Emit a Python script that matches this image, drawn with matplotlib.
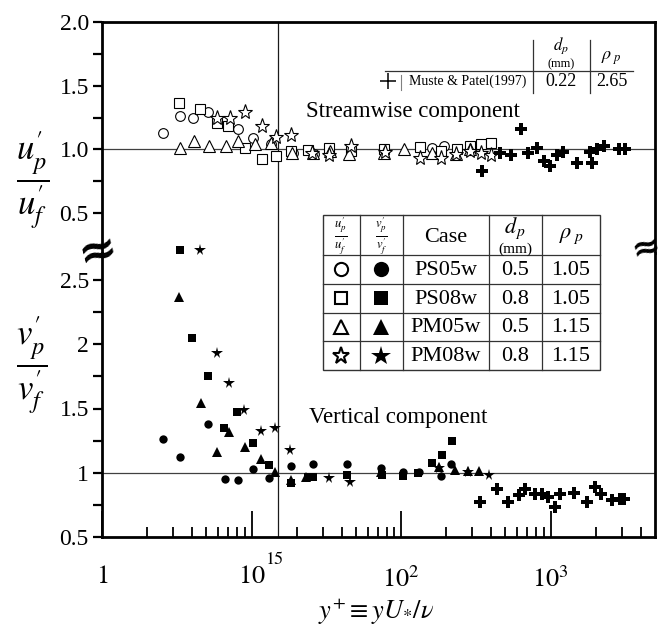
import matplotlib.pyplot as plt
import numpy as np
from matplotlib.patches import Rectangle
from matplotlib.ticker import NullFormatter

plt.rcParams.update({
    "font.family": "serif",
    "font.serif": ["Liberation Serif", "DejaVu Serif"],
    "mathtext.fontset": "stix",
    "font.size": 14,
    "axes.linewidth": 2.0,
})

# ---------------------------------------------------------------- data
# streamwise component u'_p / u'_f (open symbols)
ps05_u_x = [2.57, 3.3, 4.06, 5.15, 8.1, 10.3, 13.4, 19, 26, 162, 195, 320]
ps05_u_y = [1.13, 1.265, 1.245, 1.29, 1.16, 1.09, 1.04, 0.975, 0.965, 1.01, 1.025, 1.025]

ps08_u_x = [3.25, 4.54, 5.9, 7.0, 9.07, 11.8, 14.5, 18.5, 23.7, 32.8, 46.3, 76.5,
            133, 184, 236, 291, 343, 398]
ps08_u_y = [1.365, 1.32, 1.21, 1.18, 1.01, 0.925, 0.95, 0.99, 0.995, 1.01, 0.985, 1.005,
            1.02, 0.99, 1.005, 1.03, 1.04, 1.05]

pm05_u_x = [3.34, 4.12, 5.17, 6.72, 8.07, 10.5, 13.6, 18.8, 25.8, 33.4, 44.6, 76.5,
            104, 162, 232, 290]
pm05_u_y = [1.01, 1.065, 1.025, 1.03, 1.065, 1.045, 1.05, 0.97, 0.97, 0.99, 0.965, 0.975,
            1.005, 0.97, 0.96, 1.0]

pm08_u_x = [5.9, 7.2, 9.07, 11.8, 14.5, 18.3, 25.2, 32.8, 46.3, 78, 133, 184, 232, 288,
            343, 398]
pm08_u_y = [1.245, 1.245, 1.29, 1.185, 1.10, 1.11, 0.975, 0.955, 1.03, 0.98, 0.93, 0.93,
            0.96, 0.99, 0.975, 0.955]

muste_u_x = [350, 460, 542, 630, 703, 817, 901, 993, 1110, 1208, 1507, 1832, 1905,
             2037, 2275, 2860, 3160]
muste_u_y = [0.833, 0.975, 0.955, 1.16, 0.97, 1.008, 0.91, 0.87, 0.955, 0.98, 0.89,
             0.98, 0.89, 1.005, 1.026, 1.0, 1.0]

# vertical component v'_p / v'_f (filled symbols)
ps05_v_x = [2.56, 3.32, 5.13, 6.65, 8.07, 10.2, 13.1, 18.3, 25.6, 43.6, 73.3, 103,
            131, 185, 215]
ps05_v_y = [1.265, 1.12, 1.38, 0.955, 0.945, 1.03, 0.96, 1.055, 1.07, 1.07, 1.04, 1.005,
            1.005, 0.975, 1.065]

ps08_v_x = [3.34, 4.03, 5.13, 6.56, 7.96, 10.3, 13.1, 18.3, 23.7, 25.6, 43.6, 74.7,
            103, 130, 160, 189, 218]
ps08_v_y = [2.73, 2.05, 1.75, 1.35, 1.47, 1.23, 1.06, 0.92, 0.965, 0.965, 0.985, 0.98,
            0.975, 0.995, 1.075, 1.14, 1.25]

pm05_v_x = [3.28, 4.56, 5.87, 7.1, 9.07, 11.5, 14.3, 18.3, 23.2, 73.3, 179, 229, 282, 332]
pm05_v_y = [2.37, 1.54, 1.16, 1.315, 1.2, 1.11, 1.005, 0.94, 0.965, 1.005, 1.045, 1.02,
            1.015, 1.015]

pm08_v_x = [4.54, 5.84, 7.1, 8.96, 11.6, 14.3, 18.0, 32.8, 45.3, 179, 282, 385]
pm08_v_y = [2.73, 1.93, 1.695, 1.49, 1.325, 1.35, 1.18, 0.96, 0.93, 1.035, 1.005, 0.98]

muste_v_x = [339, 439, 516, 615, 678, 787, 879, 968, 1067, 1161, 1446, 1758, 1977,
             2178, 2560, 2916, 3090]
muste_v_y = [0.775, 0.875, 0.77, 0.825, 0.875, 0.835, 0.835, 0.81, 0.73, 0.835, 0.84,
             0.77, 0.89, 0.835, 0.785, 0.795, 0.795]

# legend tables
cases = ["PS05w", "PS08w", "PM05w", "PM08w"]
case_dp = ["0.5", "0.8", "0.5", "0.8"]
case_rho = ["1.05", "1.05", "1.15", "1.15"]
muste_label = "Muste & Patel(1997)"
muste_dp = "0.22"
muste_rho = "2.65"

# ---------------------------------------------------------------- layout
W, H = 663, 626
X0, X1 = 102, 655
Y_TOP, Y_BRK, Y_BOT = 22, 253, 537


def fx(px):
    return px / W


def fy(py):
    return 1 - py / H


fig = plt.figure(figsize=(W / 100, H / 100), dpi=100)
ax_u = fig.add_axes([fx(X0), fy(Y_BRK), fx(X1) - fx(X0), fy(Y_TOP) - fy(Y_BRK)])
ax_v = fig.add_axes([fx(X0), fy(Y_BOT), fx(X1) - fx(X0), fy(Y_BRK) - fy(Y_BOT)])

# y scales: 2.0 at px 22, 0.5 at px 213 (upper); 2.5 at px 280, 0.5 at px 537 (lower)
u_per_px = 1.5 / (213 - Y_TOP)
v_per_px = 2.0 / (Y_BOT - 280)
ax_u.set_ylim(0.5 - (Y_BRK - 213) * u_per_px, 2.0)
ax_v.set_ylim(0.5, 2.5 + (280 - Y_BRK) * v_per_px)

for ax in (ax_u, ax_v):
    ax.set_xscale("log")
    ax.set_xlim(1, 5000)
    ax.axhline(1.0, color="0.25", lw=0.9, zorder=1)
    ax.axvline(15, color="0.1", lw=0.9, zorder=1)
    ax.tick_params(axis="y", which="both", direction="out", length=6.5, width=1.6,
                   labelsize=17, pad=3, right=False)

ax_u.spines["bottom"].set_visible(False)
ax_v.spines["top"].set_visible(False)
ax_u.tick_params(axis="x", which="both", bottom=False, top=False, labelbottom=False)

ax_u.set_yticks([0.5, 1.0, 1.5, 2.0], ["0.5", "1.0", "1.5", "2.0"])
ax_u.set_yticks([0.75, 1.25, 1.75], minor=True)
ax_v.set_yticks([0.5, 1, 1.5, 2, 2.5], ["0.5", "1", "1.5", "2", "2.5"])
ax_v.set_yticks([0.75, 1.25, 1.75, 2.25], minor=True)

ax_v.set_xticks([1, 10, 100, 1000], ["$1$", "$10$", "$10^{2}$", "$10^{3}$"])
minor = [m * d for d in (1, 10, 100) for m in range(2, 10)] + [2000, 3000, 4000]
ax_v.set_xticks(minor, minor=True)
ax_v.xaxis.set_minor_formatter(NullFormatter())
ax_v.tick_params(axis="x", which="major", direction="in", length=19, width=1.3,
                 labelsize=19, pad=21, top=False)
ax_v.tick_params(axis="x", which="minor", direction="in", length=7.5, width=1.3, top=False)
ax_v.text(14.3, -0.08, "15", transform=ax_v.get_xaxis_transform(), ha="center",
          va="center", fontsize=13, family="STIXGeneral")

# ---------------------------------------------------------------- marks
open_kw = dict(ls="none", mfc="white", mec="black", mew=0.8, zorder=3)
ax_u.plot(ps05_u_x, ps05_u_y, marker="o", ms=7, **open_kw)
ax_u.plot(ps08_u_x, ps08_u_y, marker="s", ms=7, **open_kw)
ax_u.plot(pm05_u_x, pm05_u_y, marker="^", ms=8, **open_kw)
ax_u.plot(pm08_u_x, pm08_u_y, marker="*", ms=11, **open_kw)
ax_u.plot(muste_u_x, muste_u_y, ls="none", marker="P", ms=8.5, color="black", mew=0,
          zorder=4)

fill_kw = dict(ls="none", color="black", mew=0, zorder=3, clip_on=False)
ax_v.plot(ps05_v_x, ps05_v_y, marker="o", ms=6, **fill_kw)
ax_v.plot(ps08_v_x, ps08_v_y, marker="s", ms=6, **fill_kw)
ax_v.plot(pm05_v_x, pm05_v_y, marker="^", ms=7, **fill_kw)
ax_v.plot(pm08_v_x, pm08_v_y, marker="*", ms=8.5, **fill_kw)
ax_v.plot(muste_v_x, muste_v_y, ls="none", marker="P", ms=8.5, color="black", mew=0,
          zorder=4)

# ---------------------------------------------------------------- overlay (pixel coords)
ov = fig.add_axes([0, 0, 1, 1], zorder=10)
ov.set_xlim(0, W)
ov.set_ylim(H, 0)
ov.axis("off")

# axis break marks
ov.text(X0 - 4, Y_BRK - 2, "≈", ha="center", va="center", fontsize=34, rotation=15,
        fontweight="bold", family="DejaVu Serif")
ov.text(X1 - 9, Y_BRK - 6, "≈", ha="center", va="center", fontsize=25, rotation=15,
        fontweight="bold", family="DejaVu Serif")

ov.text(33, 180, r"$\dfrac{u_{p}^{\prime}}{u_{f}^{\prime}}$", ha="center", va="center",
        fontsize=25)
ov.text(32, 365, r"$\dfrac{v_{p}^{\prime}}{v_{f}^{\prime}}$", ha="center", va="center",
        fontsize=25)
ov.text(376, 612, r"$y^{+}\equiv yU_{*}/\nu$", ha="center", va="center", fontsize=19)

ov.text(413, 112, "Streamwise component", ha="center", va="center", fontsize=16.5)
ov.text(398, 418, "Vertical component", ha="center", va="center", fontsize=16.5)

# Muste & Patel table
tl = dict(color="0.2", lw=0.9)
ov.plot([385, 633], [71, 71], **tl)
ov.plot([533, 533], [40, 93], **tl)
ov.plot([590, 590], [40, 93], **tl)
ov.plot([401, 401], [75, 90], color="0.5", lw=0.8)
ov.plot([388], [81], marker="+", ms=12, mew=1.1, color="black")
ov.text(468, 81, muste_label, ha="center", va="center", fontsize=10)
ov.text(561, 81, muste_dp, ha="center", va="center", fontsize=13)
ov.text(612, 81, muste_rho, ha="center", va="center", fontsize=13)
ov.text(561, 46, r"$d_{p}$", ha="center", va="center", fontsize=12)
ov.text(561, 64, "(mm)", ha="center", va="center", fontsize=9)
ov.text(611, 58, r"$\rho_{\;p}$", ha="center", va="center", fontsize=13)

# case table
tx0, tx1, ty0, ty1 = 323, 600, 215, 370
ov.add_patch(Rectangle((tx0, ty0), tx1 - tx0, ty1 - ty0, fc="white", ec="0.2", lw=1.0))
col_x = [360, 403, 489, 542]
for cx in col_x:
    ov.plot([cx, cx], [ty0, ty1], **tl)
row_y = np.linspace(255, ty1, 5)
for ry in row_y[:-1]:
    ov.plot([tx0, tx1], [ry, ry], **tl)

ov.text(341, 236, r"$\frac{u_{p}^{\prime}}{u_{f}^{\prime}}$", ha="center", va="center",
        fontsize=13)
ov.text(381, 236, r"$\frac{v_{p}^{\prime}}{v_{f}^{\prime}}$", ha="center", va="center",
        fontsize=13)
ov.text(446, 238, "Case", ha="center", va="center", fontsize=16)
ov.text(515, 228, r"$d_{\,p}$", ha="center", va="center", fontsize=16)
ov.text(515, 249, "(mm)", ha="center", va="center", fontsize=11)
ov.text(571, 236, r"$\rho_{\;p}$", ha="center", va="center", fontsize=16)

markers = [("o", 9.5, 11), ("s", 9, 10.5), ("^", 10, 12), ("*", 12.5, 15)]
for i, (case, dp, rho) in enumerate(zip(cases, case_dp, case_rho)):
    yc = (row_y[i] + row_y[i + 1]) / 2
    mk, ms_o, ms_f = markers[i]
    ov.plot([341], [yc], marker=mk, ms=ms_o, mfc="white", mec="black", mew=1.5)
    ov.plot([381], [yc], marker=mk, ms=ms_f, color="black", mew=0)
    ov.text(446, yc + 1, case, ha="center", va="center", fontsize=16)
    ov.text(515, yc + 1, dp, ha="center", va="center", fontsize=16)
    ov.text(571, yc + 1, rho, ha="center", va="center", fontsize=16)

fig.savefig("out.png", dpi=100)
